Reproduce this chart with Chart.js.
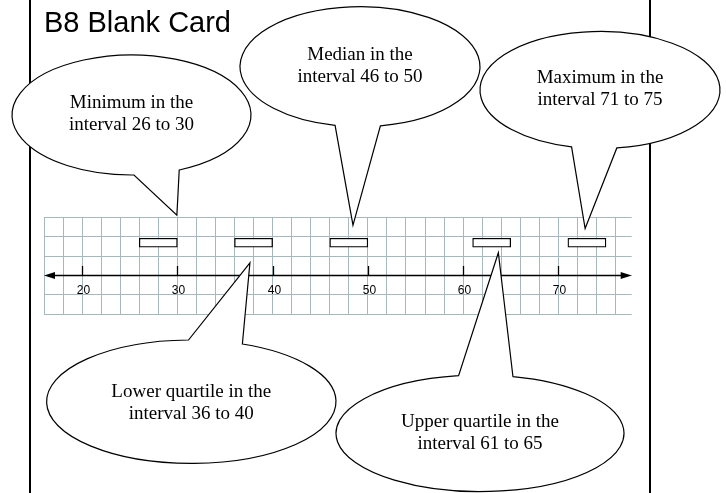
<!DOCTYPE html>
<html>
<head>
<meta charset="utf-8">
<script src="https://cdn.jsdelivr.net/npm/chart.js@4.4.1/dist/chart.umd.min.js"></script>
<style>
html,body{margin:0;padding:0;background:#fff;}
#wrap{width:726px;height:493px;position:relative;}
</style>
</head>
<body>
<div id="wrap"><canvas id="c"></canvas></div>
<script>
// ---- data ----
const titleText = 'B8 Blank Card';
const categories = ['Minimum', 'Lower quartile', 'Median', 'Upper quartile', 'Maximum'];
const intervalLow = [26, 36, 46, 61, 71];
const intervalHigh = [30, 40, 50, 65, 75];
const tickLabels = [20, 30, 40, 50, 60, 70];
const calloutLines = [
  ['Minimum in the', 'interval 26 to 30'],
  ['Lower quartile in the', 'interval 36 to 40'],
  ['Median in the', 'interval 46 to 50'],
  ['Upper quartile in the', 'interval 61 to 65'],
  ['Maximum in the', 'interval 71 to 75']
];
// where each callout's pointer tip lands, in axis units (value, row)
const pointerValue = [29.95, 37.62, 48.44, 63.70, 72.81];
const pointerRow = [5.13, 2.66, 4.61, 3.18, 4.44];

// ---- layout / style ----
const boxRow = 3.70;
const axisRow = 2;
const gridColor = '#a6b8bc';
const bubbles = [
  {cx:131.5, cy:115,   rx:119.5, ry:60,   tA:1.16,  tB:1.55,  dy:-1},
  {cx:191.3, cy:401.7, rx:144.7, ry:61.7, tA:-1.59, tB:-1.21, dy:1},
  {cx:360,   cy:66.7,  rx:120,   ry:60,   tA:1.40,  tB:1.78,  dy:-1},
  {cx:480,   cy:433.3, rx:144,   ry:58.3, tA:-1.72, tB:-1.34, dy:0},
  {cx:600,   cy:90,    rx:120,   ry:58.5, tA:1.43,  tB:1.81,  dy:-1}
];

const framePlugin = {
  id: 'frame',
  beforeDraw(chart) {
    const ctx = chart.ctx;
    ctx.save();
    ctx.fillStyle = '#fff';
    ctx.fillRect(0, 0, chart.width, chart.height);
    ctx.fillStyle = '#000';
    ctx.fillRect(29, 0, 2, chart.height);
    ctx.fillRect(649, 0, 2, chart.height);
    ctx.font = '29px "Liberation Sans", Arial, sans-serif';
    ctx.textAlign = 'left';
    ctx.textBaseline = 'alphabetic';
    ctx.fillText(titleText, 44, 32);
    ctx.restore();
  }
};

const axisPlugin = {
  id: 'numberLine',
  afterDatasetsDraw(chart) {
    const {ctx, scales: {x, y}} = chart;
    const ay = Math.round(y.getPixelForValue(axisRow)) + 0.5;
    const x0 = x.getPixelForValue(x.min);
    const x1 = x.getPixelForValue(x.max);
    ctx.save();
    ctx.strokeStyle = '#000';
    ctx.fillStyle = '#000';
    ctx.lineWidth = 1.3;
    ctx.beginPath();
    ctx.moveTo(x0 + 6, ay);
    ctx.lineTo(x1 - 6, ay);
    ctx.stroke();
    ctx.beginPath();
    ctx.moveTo(x0, ay); ctx.lineTo(x0 + 11, ay - 3.5); ctx.lineTo(x0 + 11, ay + 3.5); ctx.closePath(); ctx.fill();
    ctx.beginPath();
    ctx.moveTo(x1, ay); ctx.lineTo(x1 - 11, ay - 3.5); ctx.lineTo(x1 - 11, ay + 3.5); ctx.closePath(); ctx.fill();
    ctx.font = '12px "Liberation Sans", Arial, sans-serif';
    ctx.textAlign = 'center';
    ctx.textBaseline = 'alphabetic';
    tickLabels.forEach(v => {
      const px = Math.round(x.getPixelForValue(v)) + 0.5;
      ctx.beginPath();
      ctx.moveTo(px, ay);
      ctx.lineTo(px, ay - 9.5);
      ctx.stroke();
      ctx.fillText(String(v), px + 1, ay + 18);
    });
    ctx.restore();
  }
};

const calloutPlugin = {
  id: 'callouts',
  afterDraw(chart) {
    const {ctx, scales: {x, y}} = chart;
    ctx.save();
    ctx.lineWidth = 1.2;
    ctx.strokeStyle = '#000';
    categories.forEach((c, i) => {
      const b = bubbles[i];
      const tipX = x.getPixelForValue(pointerValue[i]);
      const tipY = y.getPixelForValue(pointerRow[i]);
      const ax = b.cx + b.rx * Math.cos(b.tA), ayy = b.cy + b.ry * Math.sin(b.tA);
      ctx.beginPath();
      ctx.moveTo(tipX, tipY);
      ctx.lineTo(ax, ayy);
      ctx.ellipse(b.cx, b.cy, b.rx, b.ry, 0, b.tA, b.tB, true);
      ctx.closePath();
      ctx.fillStyle = '#fff';
      ctx.fill();
      ctx.stroke();
      ctx.fillStyle = '#000';
      ctx.font = '19px "Liberation Serif", "Times New Roman", serif';
      ctx.textAlign = 'center';
      ctx.textBaseline = 'middle';
      const lines = calloutLines[i];
      ctx.fillText(lines[0], b.cx, b.cy + b.dy - 11);
      ctx.fillText(lines[1], b.cx, b.cy + b.dy + 11);
    });
    ctx.restore();
  }
};

new Chart(document.getElementById('c'), {
  type: 'bar',
  data: {
    datasets: [{
      label: 'Interval',
      data: categories.map((c, i) => ({x: [intervalLow[i], intervalHigh[i]], y: boxRow})),
      backgroundColor: '#fff',
      borderColor: '#000',
      borderWidth: 1.3,
      borderSkipped: false,
      barThickness: 9
    }]
  },
  options: {
    indexAxis: 'y',
    responsive: true,
    maintainAspectRatio: false,
    animation: false,
    devicePixelRatio: 1,
    layout: {padding: {left: 44, right: 94.3, top: 217.7, bottom: 179}},
    plugins: {legend: {display: false}, tooltip: {enabled: false}, title: {display: false}},
    scales: {
      x: {
        type: 'linear', min: 16, max: 77.7, offset: false,
        ticks: {display: false, stepSize: 2, includeBounds: false},
        grid: {color: gridColor, lineWidth: 1, drawTicks: false, offset: false},
        border: {display: false},
        afterFit(s) { s.height = 0; }
      },
      y: {
        type: 'linear', min: 0, max: 5, offset: false,
        ticks: {display: false, stepSize: 1},
        grid: {color: gridColor, lineWidth: 1, drawTicks: false, offset: false},
        border: {display: false},
        afterFit(s) { s.width = 0; }
      }
    }
  },
  plugins: [framePlugin, axisPlugin, calloutPlugin]
});
</script>
</body>
</html>
